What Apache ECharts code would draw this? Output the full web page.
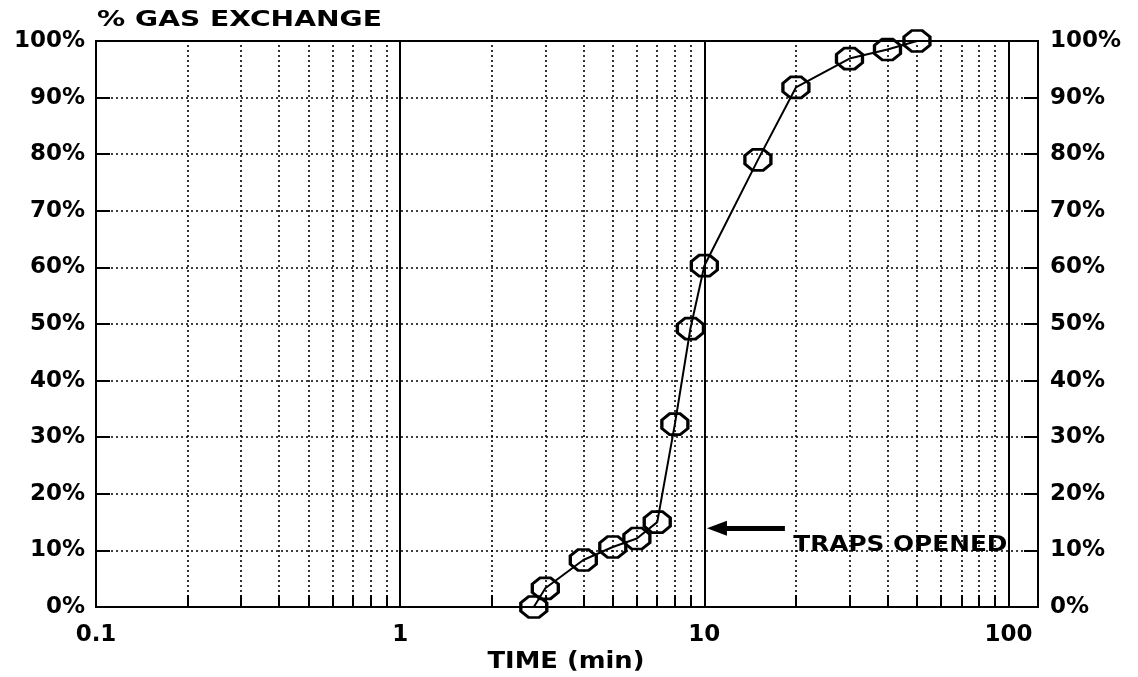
<!DOCTYPE html>
<html>
<head>
<meta charset="utf-8">
<title>% Gas Exchange vs Time</title>
<script src="https://cdn.jsdelivr.net/npm/echarts@6/dist/echarts.min.js"></script>
<style>
  html, body { margin: 0; padding: 0; background: #ffffff; }
  #chart { width: 1138px; height: 677px; }
</style>
</head>
<body>
<div id="chart"></div>
<script>
// Measured gas exchange over time
const timeMin = [2.75, 3, 4, 5, 6, 7, 8, 9, 10, 15, 20, 30, 40, 50];
const gasExchangePct = [0, 3.3, 8.3, 10.6, 12.1, 15, 32.3, 49.2, 60.3, 79, 91.8, 96.9, 98.5, 100];

// Log-axis intermediate grid positions (2..9 of each decade)
const minorTimeLines = [0.2, 0.3, 0.4, 0.5, 0.6, 0.7, 0.8, 0.9,
                        2, 3, 4, 5, 6, 7, 8, 9,
                        20, 30, 40, 50, 60, 70, 80, 90];

const FONT = '"DejaVu Sans", "Liberation Sans", sans-serif';
const INK = '#000000';

const chart = echarts.init(document.getElementById('chart'), null, { renderer: 'canvas' });

const points = timeMin.map((t, i) => [t, gasExchangePct[i]]);

const dotted = { color: INK, width: 1.6, type: [2, 3] };

const markLineData = [];
// dotted intermediate verticals
minorTimeLines.forEach(v => {
  markLineData.push({ xAxis: v, lineStyle: dotted });
});
// short solid ticks along the bottom edge
minorTimeLines.forEach(v => {
  markLineData.push([
    { coord: [v, 0], lineStyle: { color: INK, width: 2, type: 'solid' } },
    { coord: [v, 2.1] }
  ]);
});
// arrow pointing at the moment the traps were opened
markLineData.push([
  { coord: [18.4, 13.9], symbol: 'none', lineStyle: { color: INK, width: 5, type: 'solid' } },
  { coord: [11.0, 13.9], symbol: 'triangle', symbolSize: [15, 20] }
]);

function decadeLabel(val) {
  const p = Math.log10(val);
  const r = Math.round(p);
  if (Math.abs(p - r) > 1e-6) return '';
  return r < 0 ? Math.pow(10, r).toFixed(-r) : String(Math.pow(10, r));
}

const yAxisCommon = {
  type: 'value',
  min: 0,
  max: 100,
  interval: 10,
  axisLine: { show: true, lineStyle: { color: INK, width: 2 } },
  axisTick: { show: true, inside: true, length: 14, lineStyle: { color: INK, width: 2 } },
  axisLabel: {
    formatter: '{value}%',
    color: INK,
    fontFamily: FONT,
    fontWeight: 'bold',
    fontSize: 23
  }
};

const option = {
  animation: false,
  backgroundColor: '#ffffff',
  grid: {
    left: 96, right: 100, top: 41, bottom: 70,
    show: true, borderColor: INK, borderWidth: 2, backgroundColor: 'transparent'
  },
  xAxis: {
    type: 'log',
    logBase: 10,
    min: 0.1,
    max: 125,
    axisLine: { show: true, lineStyle: { color: INK, width: 2 } },
    axisTick: { show: false },
    splitLine: { show: true, lineStyle: { color: INK, width: 2, type: 'solid' } },
    axisLabel: {
      formatter: decadeLabel,
      margin: 17,
      color: INK,
      fontFamily: FONT,
      fontWeight: 'bold',
      fontSize: 23,
      showMaxLabel: false
    }
  },
  yAxis: [
    Object.assign({}, yAxisCommon, {
      position: 'left',
      splitLine: { show: true, lineStyle: dotted },
      axisLabel: Object.assign({}, yAxisCommon.axisLabel, { margin: 11 })
    }),
    Object.assign({}, yAxisCommon, {
      position: 'right',
      splitLine: { show: false },
      axisLabel: Object.assign({}, yAxisCommon.axisLabel, { margin: 12 })
    })
  ],
  series: [{
    name: '% GAS EXCHANGE',
    type: 'line',
    data: points,
    yAxisIndex: 0,
    symbol: 'path://M3,0L7,0L10,3L10,7L7,10L3,10L0,7L0,3Z',
    symbolSize: [26, 21],
    symbolKeepAspect: false,
    itemStyle: { color: 'rgba(0,0,0,0)', borderColor: INK, borderWidth: 3 },
    lineStyle: { color: INK, width: 2 },
    z: 5,
    markLine: {
      silent: true,
      animation: false,
      symbol: ['none', 'none'],
      label: { show: false },
      emphasis: { disabled: true },
      data: markLineData
    }
  }]
};

chart.setOption(option);

// Headings and the annotation use an extended (horizontally stretched) bold face
const noteAt = chart.convertToPixel({ gridIndex: 0 }, [19.6, 10.9]);
chart.setOption({
  graphic: [
    {
      type: 'text', x: 97, y: 20, scaleX: 1.28, silent: true,
      style: { text: '% GAS EXCHANGE', font: 'bold 22px ' + FONT, fill: INK, align: 'left', verticalAlign: 'middle' }
    },
    {
      type: 'text', x: 566, y: 662, scaleX: 1.12, silent: true,
      style: { text: 'TIME (min)', font: 'bold 23px ' + FONT, fill: INK, align: 'center', verticalAlign: 'middle' }
    },
    {
      type: 'text', x: noteAt[0], y: noteAt[1], scaleX: 1.18, silent: true, z: 10,
      style: { text: 'TRAPS OPENED', font: 'bold 21px ' + FONT, fill: INK, align: 'left', verticalAlign: 'middle' }
    }
  ]
});
</script>
</body>
</html>
